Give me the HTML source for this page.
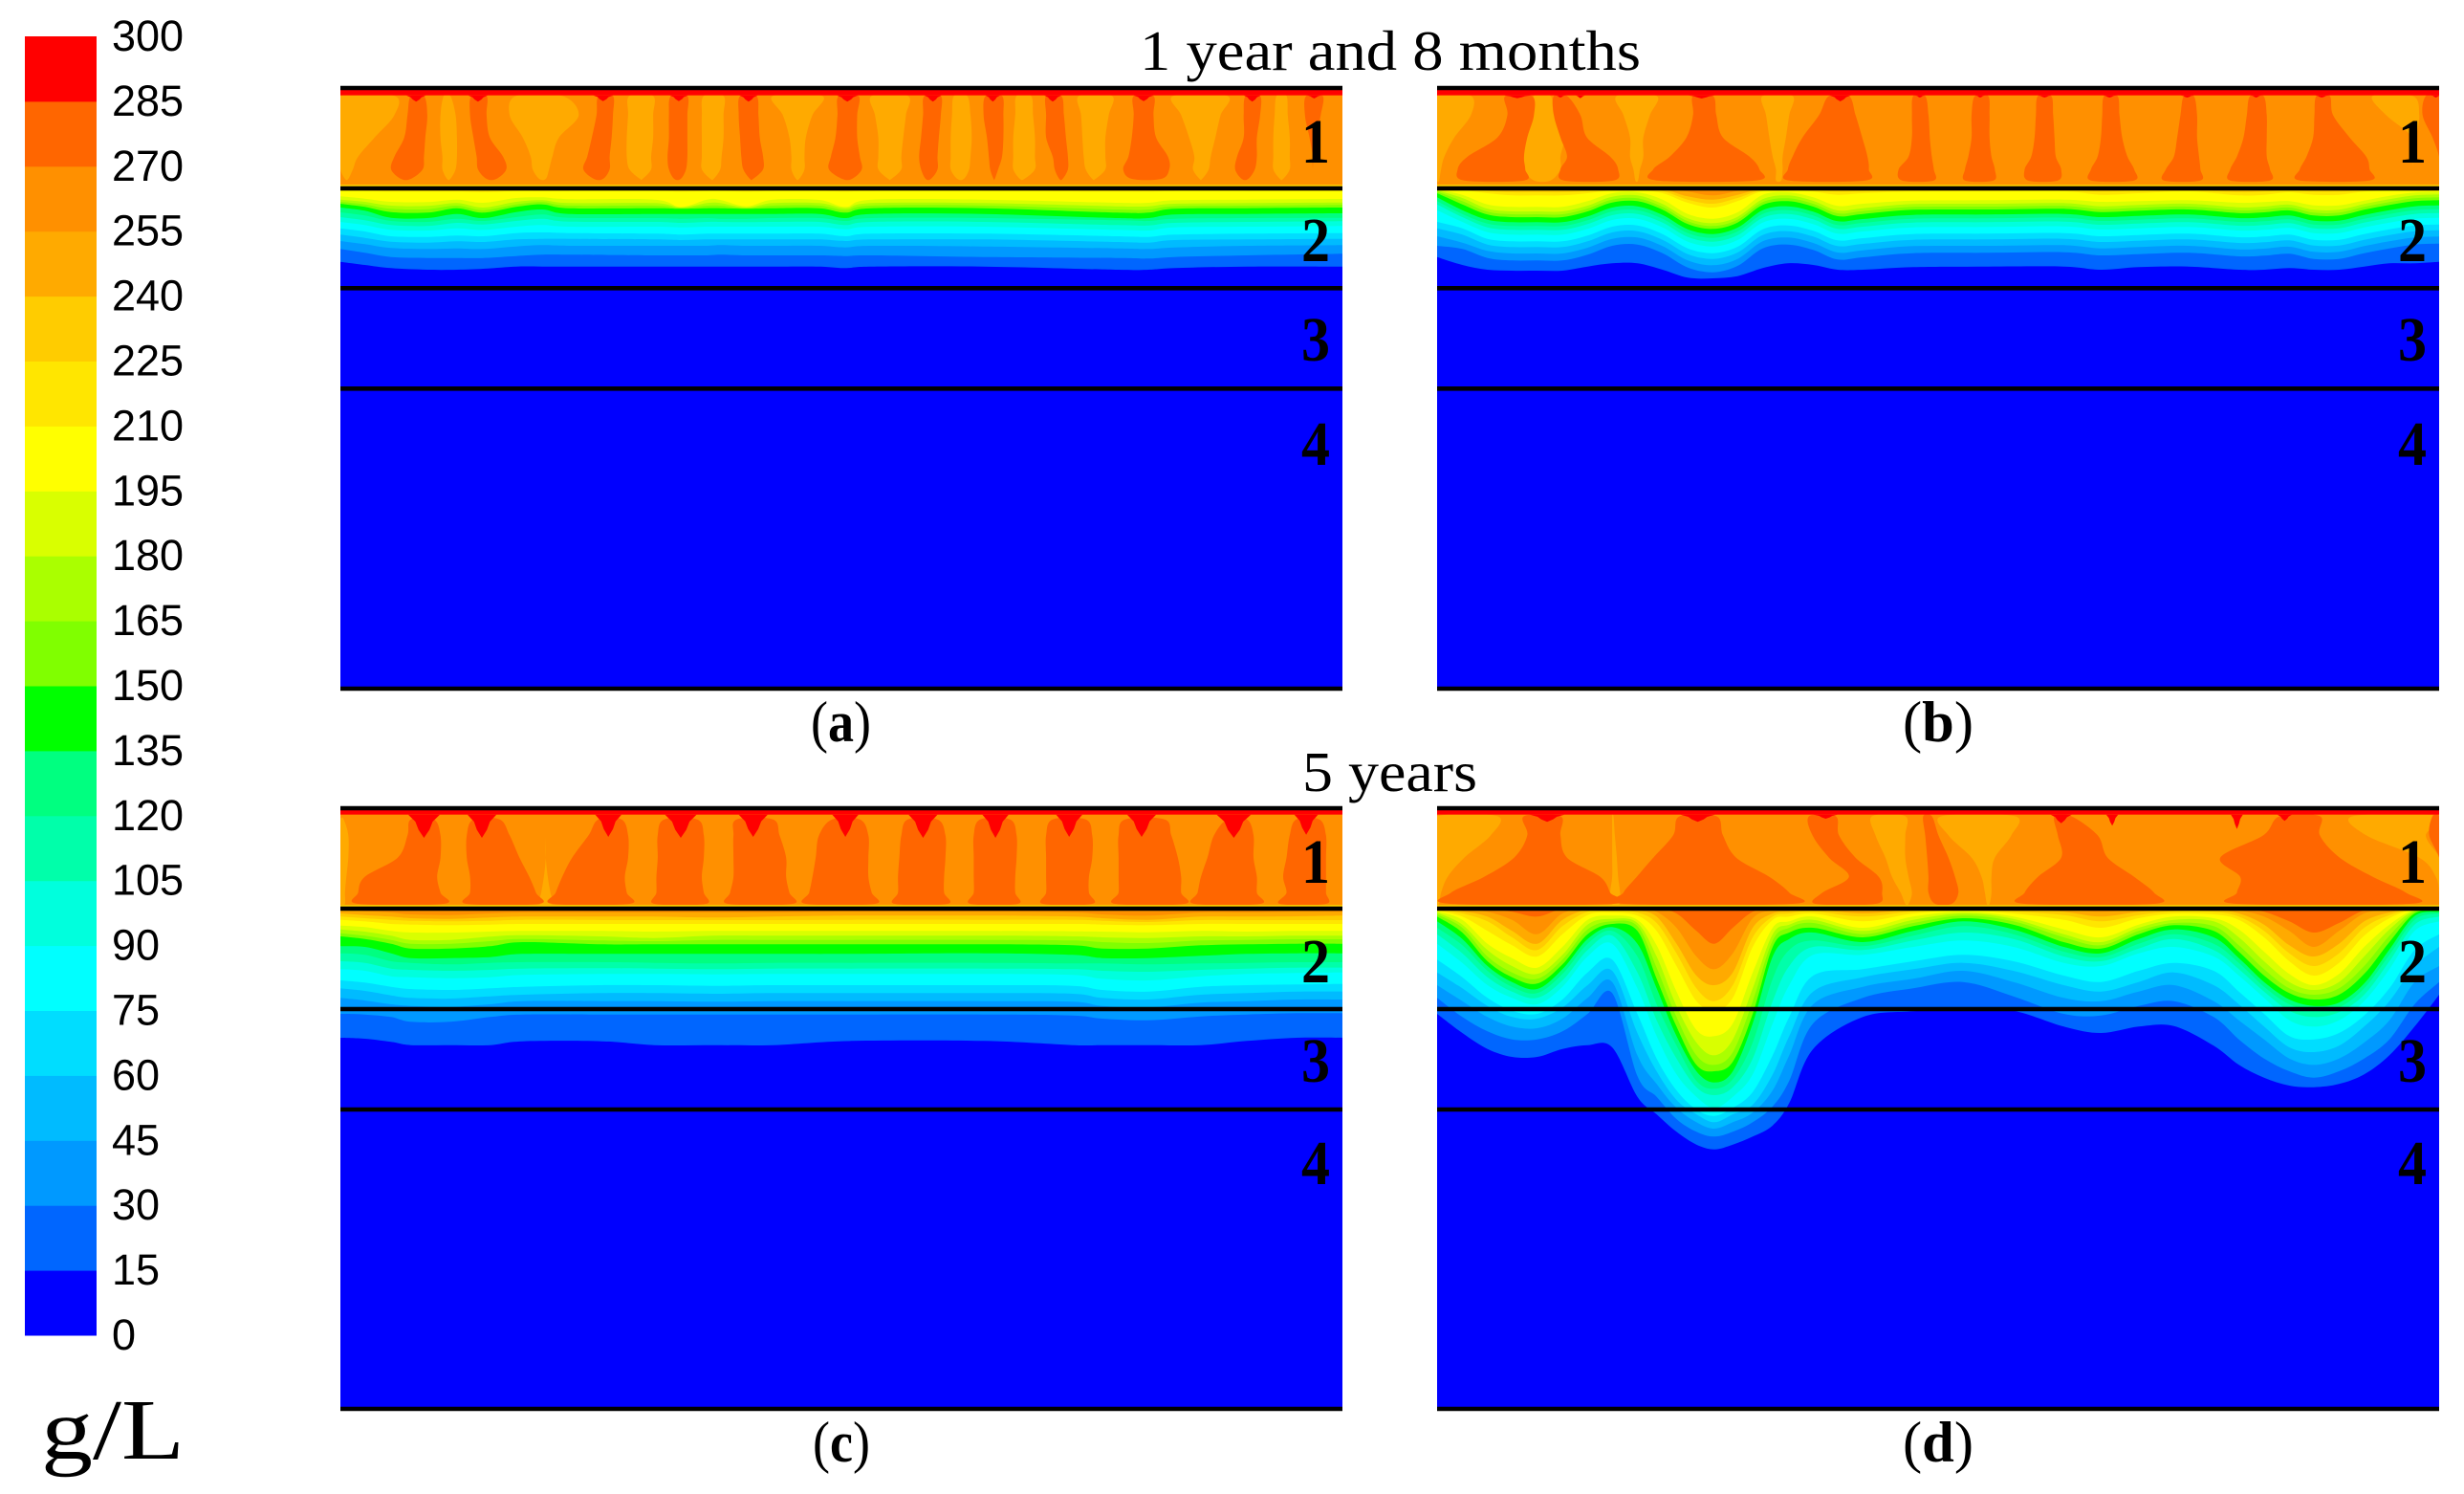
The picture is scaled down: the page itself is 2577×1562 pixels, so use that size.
<!DOCTYPE html>
<html lang="en">
<head>
<meta charset="utf-8">
<title>Concentration contours after 1 year 8 months and 5 years</title>
<style>
html,body{margin:0;padding:0;background:#fff;}
svg{display:block;}
text{fill:#000;}
.serif{font-family:"Liberation Serif",serif;}
.sans{font-family:"Liberation Sans",sans-serif;}
</style>
</head>
<body>
<svg id="figure" xmlns="http://www.w3.org/2000/svg" width="2577" height="1562" viewBox="0 0 2577 1562">
  <rect width="2577" height="1562" fill="#fff"/>
  <g id="colorbar"></g>
  <text class="serif" x="43" y="1525" font-size="90" textLength="150" lengthAdjust="spacingAndGlyphs">g/L</text>
  <text class="serif" x="1192" y="73" font-size="59" textLength="524" lengthAdjust="spacingAndGlyphs">1 year and 8 months</text>
  <text class="serif" x="1362" y="827" font-size="59" textLength="183" lengthAdjust="spacingAndGlyphs">5 years</text>
  <g id="panels"></g>
  <text class="serif" x="848" y="775" font-size="60" textLength="63" lengthAdjust="spacingAndGlyphs">(<tspan font-weight="bold">a</tspan>)</text>
  <text class="serif" x="1990" y="775" font-size="60" textLength="74" lengthAdjust="spacingAndGlyphs">(<tspan font-weight="bold">b</tspan>)</text>
  <text class="serif" x="850" y="1528" font-size="60" textLength="60" lengthAdjust="spacingAndGlyphs">(<tspan font-weight="bold">c</tspan>)</text>
  <text class="serif" x="1990" y="1528" font-size="60" textLength="74" lengthAdjust="spacingAndGlyphs">(<tspan font-weight="bold">d</tspan>)</text>
</svg>
<script>
// ---------- Colour scale ----------
const tickLabels = [300,285,270,255,240,225,210,195,180,165,150,135,120,105,90,75,60,45,30,15,0];
const bandColors = ["#0000ff","#0066ff","#0099ff","#00bbff","#00ddff","#00ffff","#00ffdd","#00ffaa","#00ff80","#00ff00","#80ff00","#aaff00","#d9ff00","#ffff00","#ffe600","#ffcc00","#ffaa00","#ff9000","#ff6600","#ff0000"];
// Contour values (g/L): each profile row below gives the depth at which the field falls below these
const contourLevels = [15,30,45,60,75,90,105,120,135,150,165,180,195,210,225,240,255,270];

// ---------- Panel (a) ----------
const panelADistance = [23,60,100,155,200,240,290,330,370,500,540,580,600,640,680,750,790,830,1000,1200,1250,1290,1400,1545];
const panelAProfiles = [
[640,600,575,555,535,515,500,485,470,458,452,445,435,418,414,411],
[650,612,585,565,545,525,510,495,480,468,460,452,442,418,414,411],
[660,625,597,577,560,540,525,512,502,484,474,464,452,420,414,411],
[665,628,600,580,562,542,528,515,503,486,475,465,453,420,414,411],
[665,628,598,576,558,535,518,505,490,472,464,456,445,420,414,411],
[662,628,600,578,560,540,523,512,503,486,478,470,455,422,416,411],
[655,622,592,570,550,530,512,500,484,468,460,452,440,418,414,411],
[655,618,588,568,548,525,505,492,476,460,453,447,438,418,414,411],
[655,618,590,568,550,530,514,502,490,472,464,456,444,418,414,411],
[655,620,590,570,552,530,515,503,490,472,464,456,445,418,414,411],
[655,620,590,572,555,532,518,505,490,474,472,470,468,420,414,411],
[655,620,590,570,552,530,515,503,490,472,464,456,445,418,414,411],
[655,618,588,570,552,530,515,505,490,472,464,456,446,418,414,411],
[655,620,590,570,552,530,516,505,490,474,472,470,466,420,414,411],
[655,620,590,570,552,530,515,503,490,472,464,456,445,418,414,411],
[655,620,590,570,552,530,515,503,490,472,464,456,446,418,414,411],
[660,622,595,575,560,538,525,512,503,486,478,472,468,420,414,411],
[655,620,590,570,552,530,515,503,490,472,464,456,445,418,414,411],
[655,625,592,570,552,530,515,503,490,472,464,456,445,418,414,411],
[665,628,598,578,560,540,525,510,503,486,476,466,455,420,414,411],
[665,630,600,580,562,542,526,512,503,486,476,466,455,420,414,411],
[660,625,595,572,555,532,518,505,492,474,466,458,447,418,414,411],
[655,620,590,570,552,530,515,503,490,472,464,456,445,418,414,411],
[655,615,588,568,550,528,513,502,488,470,462,454,443,418,414,411]
];
const panelAPlumeDepths = [120,180,250,310,350,380];
const panelAHighPlumes = [
[130,150,125,155,120,152,105,150,100,148,115,130],
[222,245,220,245,225,250,230,270,232,275,245,260],
[415,437,412,437,405,435,398,432,392,432,408,422],
[525,550,522,550,522,550,520,550,522,548,530,540],
[630,655,628,658,630,660,632,665,635,665,645,650],
[780,810,778,808,775,808,768,812,765,815,785,800],
[910,935,908,935,905,932,902,930,905,930,912,920],
[1003,1028,1000,1030,1005,1030,1008,1028,1010,1022,1015,1017],
[1095,1118,1095,1122,1095,1125,1105,1128,1108,1128,1115,1120],
[1228,1258,1228,1258,1225,1262,1220,1280,1212,1282,1225,1270],
[1398,1420,1395,1420,1395,1415,1385,1415,1382,1412,1392,1402],
[1490,1515,1488,1512,1495,1505,1500,1500,1500,1500,1500,1500]
];
const panelALowPlumes = [
[23,105,23,105,23,75,23,50,23,42,30,35],
[180,190,175,198,175,200,178,200,178,198,185,190],
[290,360,280,385,300,355,312,345,315,340,325,335],
[462,498,460,498,458,498,458,495,462,495,478,482],
[575,605,572,605,572,605,572,602,572,600,585,590],
[680,755,695,740,705,730,708,728,708,728,715,720],
[830,885,835,882,840,878,840,875,840,875,855,860],
[955,975,952,980,950,982,950,980,950,978,960,970],
[1050,1072,1048,1075,1045,1078,1045,1078,1045,1078,1055,1062],
[1145,1195,1148,1190,1150,1185,1152,1185,1155,1185,1165,1170],
[1288,1370,1300,1360,1312,1352,1320,1345,1318,1342,1328,1332],
[1445,1460,1442,1462,1440,1465,1440,1465,1440,1465,1450,1455]
];
const panelADrops = [[138,15,138],[232,15,138],[422,15,136],[537,14,136],[643,14,138],[793,16,138],[923,13,138],[1014,11,138],[1105,13,138],[1243,15,136],[1408,13,138],[1502,10,128]];

// ---------- Panel (b) ----------
const panelBDistance = [19,57,95,132,170,208,246,283,321,359,397,435,472,510,548,586,623,661,737,850,964,1020,1077,1152,1228,1266,1304,1341,1379,1417,1455,1493,1530];
const panelBProfiles = [
[625,590,560,535,515,478,460,450,438,425,420,416,413,410],
[650,600,580,555,535,515,500,490,478,460,450,440,430,415,412,410,410],
[665,628,606,586,568,547,532,520,508,492,483,474,460,425,418,412,410],
[668,636,614,594,576,555,540,528,516,500,491,482,468,432,422,414,410],
[668,636,614,594,576,555,540,528,516,500,491,482,468,432,422,414,410],
[668,636,614,594,576,555,540,528,516,500,491,482,468,432,422,414,410],
[655,618,596,576,558,537,522,510,498,482,473,464,450,425,418,412,410],
[645,590,568,548,530,509,494,482,470,454,445,436,425,416,412,410,410],
[645,586,564,544,526,505,490,478,466,450,441,432,422,415,412,410,410],
[665,613,591,571,553,532,517,505,493,477,468,459,445,425,418,412,410],
[690,658,636,616,598,577,562,550,538,522,513,504,490,455,445,435,420],
[692,673,651,631,613,592,577,565,553,537,528,519,505,470,458,445,432],
[685,653,631,611,593,572,557,545,533,517,508,499,485,450,440,430,418],
[660,598,576,556,538,517,502,490,478,462,453,444,430,418,414,410,410],
[645,586,564,544,526,505,490,478,466,450,441,432,422,415,412,410,410],
[650,603,581,561,543,522,507,495,483,467,458,449,438,420,415,411,410],
[665,633,611,591,573,552,537,525,513,497,488,479,465,430,420,413,410],
[665,626,604,584,566,545,530,518,506,490,481,472,458,425,418,412,410],
[657,613,591,571,553,532,517,505,493,477,468,459,448,420,415,411,410],
[655,612,590,570,552,531,516,504,492,476,467,458,447,419,415,411,410],
[655,610,588,568,550,529,514,502,490,474,465,456,445,419,414,411,410],
[665,620,598,578,560,539,524,512,500,484,475,466,452,430,420,412,410],
[657,616,594,574,556,535,520,508,496,480,471,462,450,425,416,411,410],
[655,612,590,570,552,531,516,504,492,476,467,458,447,419,415,411,410],
[665,623,601,581,563,542,527,515,503,487,478,469,455,432,422,413,410],
[665,621,599,579,561,540,525,513,501,485,476,467,453,430,420,412,410],
[660,615,593,573,555,534,519,507,495,479,470,461,450,422,416,411,410],
[665,631,609,589,571,550,535,523,511,495,486,477,463,430,420,413,410],
[665,631,609,589,571,550,535,523,511,495,486,477,463,430,420,413,410],
[655,613,591,571,553,532,517,505,493,477,468,459,448,420,415,411,410],
[645,598,576,556,538,517,502,490,478,462,453,444,433,416,413,410,410],
[645,586,564,544,526,505,490,478,466,450,441,432,423,414,411,410,410],
[640,583,561,541,523,502,487,475,463,447,438,429,421,413,411,410,410]
];
const panelBPlumeDepths = [120,180,250,310,350,385];
const panelBHighPlumes = [
[122,162,125,165,110,155,65,150,50,152,60,150],
[195,215,195,235,205,245,215,280,205,292,210,285],
[405,435,405,440,395,450,370,490,345,505,350,500],
[610,640,595,650,570,660,555,668,548,670,550,665],
[737,755,735,760,735,762,730,765,715,768,720,768],
[830,850,825,852,825,852,820,855,815,860,815,858],
[925,945,922,948,920,950,915,952,905,960,910,955],
[1025,1045,1022,1048,1020,1052,1015,1060,1005,1070,1005,1070],
[1145,1160,1140,1165,1135,1165,1130,1168,1118,1170,1115,1170],
[1245,1265,1240,1270,1235,1270,1225,1270,1215,1275,1215,1275],
[1345,1365,1342,1370,1340,1395,1330,1420,1320,1425,1320,1425],
[1510,1530,1505,1530,1520,1530,1530,1530,1530,1530,1530,1530]
];
const panelBLowPlumes = [
[19,70,19,70,19,45,19,30,19,25,19,22],
[165,190,160,195,152,210,150,205,150,205,165,190],
[290,350,300,340,310,330,310,330,315,325,318,322],
[510,555,515,550,520,545,525,540,530,540,530,538],
[1430,1490,1450,1500,1490,1495,1490,1490,1490,1490,1490,1490]
];
const panelBDrops = [[140,20,127],[205,7,125],[235,7,127],[418,20,128],[627,16,137],[747,7,125],[838,7,125],[935,10,125],[1033,10,125],[1150,10,125],[1254,8,125],[1353,10,125],[1525,7,125]];

// ---------- Panel (c) ----------
const panelCDistance = [23,60,100,130,190,250,300,420,500,590,680,800,1000,1135,1180,1250,1330,1400,1475,1545];
const panelCProfiles = [
[765,690,640,610,585,550,525,500,478,447,437,425,413,395,385,375,366],
[768,692,648,618,592,555,530,505,480,455,445,432,418,400,390,380,368],
[778,700,660,632,605,572,548,525,500,470,458,445,430,408,395,385,372],
[788,715,665,640,612,575,552,530,515,485,470,458,435,410,398,390,378],
[788,715,668,642,615,578,555,535,515,485,470,458,435,412,400,392,380],
[788,700,660,635,610,575,552,530,512,478,462,448,432,410,398,388,375],
[776,692,650,630,605,568,548,528,502,465,455,443,430,408,395,385,372],
[776,692,650,625,600,565,547,528,502,472,460,447,430,408,396,385,372],
[788,692,650,625,600,565,548,530,502,472,462,452,432,408,396,385,372],
[788,692,652,627,602,566,550,532,502,472,458,445,430,408,396,388,372],
[788,692,650,625,600,565,548,530,502,472,458,445,430,408,396,385,372],
[775,692,650,625,600,565,548,530,502,472,458,445,430,408,395,382,370],
[775,692,650,625,600,565,548,530,500,472,458,445,430,408,395,382,370],
[788,695,652,627,602,568,550,532,505,475,460,447,431,408,395,385,372],
[788,705,665,640,615,580,555,532,515,485,465,450,432,410,398,390,378],
[788,710,670,645,620,585,558,535,515,485,468,452,434,412,402,395,382],
[788,698,655,630,605,572,552,532,508,475,460,447,430,408,396,385,372],
[775,692,650,625,600,565,548,530,502,472,458,447,432,408,396,385,372],
[765,688,645,620,598,562,545,528,500,470,456,445,430,408,396,384,370],
[765,688,645,620,596,560,545,528,500,470,456,445,430,408,396,382,370]
];
const panelCPlumeDepths = [80,130,200,260,310,345];
const panelCHighPlumes = [
[130,165,125,175,110,175,60,170,50,175,50,180],
[225,265,215,280,215,295,220,310,220,320,215,325],
[415,450,400,460,375,460,360,455,350,458,345,462],
[515,565,505,575,505,575,503,572,503,575,500,578],
[625,680,620,690,620,700,620,700,615,705,612,710],
[770,812,750,825,745,825,740,825,735,830,730,835],
[885,930,875,942,872,942,870,940,870,940,865,945],
[995,1040,985,1050,985,1050,985,1048,985,1048,980,1052],
[1105,1155,1095,1165,1095,1165,1095,1160,1095,1160,1090,1165],
[1215,1275,1205,1285,1205,1295,1205,1300,1205,1300,1200,1305],
[1370,1400,1350,1410,1340,1410,1330,1415,1325,1415,1320,1420],
[1475,1510,1465,1520,1460,1520,1455,1520,1460,1520,1450,1520]
];
const panelCLowPlumes = [
[23,28,23,35,23,35,23,32,23,30,23,30],
[335,335,335,335,335,335,332,338,328,342,325,345]
];
const panelCDrops = [[150,24,138],[238,22,138],[430,20,135],[540,24,138],[650,22,135],[790,20,135],[908,22,138],[1018,20,138],[1130,20,135],[1240,22,135],[1380,26,138],[1490,18,128]];

// ---------- Panel (d) ----------
const panelDDistance = [19,57,95,132,170,208,246,283,321,350,380,410,437,465,495,525,550,586,661,737,812,888,964,1020,1077,1130,1190,1228,1266,1304,1341,1379,1417,1455,1493,1530];
const panelDProfiles = [
[690,640,600,560,520,470,440,420,400,385,378,372,368,365,362,360],
[750,700,650,610,575,530,500,475,455,435,420,410,395,385,375,368,362,360],
[800,745,700,665,640,600,575,555,540,525,510,490,470,430,400,385,370,360],
[825,770,730,700,680,640,620,605,590,575,560,540,515,475,450,430,395,370],
[825,770,735,705,690,660,640,625,612,595,580,565,545,510,490,470,440,385],
[800,745,705,670,645,605,585,565,550,535,520,505,480,440,415,395,375,360],
[788,690,640,600,560,510,490,470,455,440,425,410,395,380,370,362,360,360],
[795,625,590,555,520,470,445,430,418,408,400,392,382,372,365,360],
[950,885,820,750,690,610,560,510,470,430,415,405,395,382,372,365,360,360],
[1005,950,910,870,830,760,710,660,610,580,545,510,475,430,405,385,370,360],
[1060,1020,985,960,930,880,830,790,760,730,700,665,620,540,500,470,420,375],
[1100,1060,1030,1005,990,950,920,900,870,850,820,780,740,650,610,570,510,430],
[1115,1075,1050,1030,1010,985,945,925,905,870,850,820,760,680,650,600,550,470],
[1100,1060,1030,1005,985,950,920,895,870,840,810,770,720,640,600,560,500,420],
[1075,1030,1000,975,935,880,830,780,720,690,650,610,560,480,450,420,390,370],
[1040,980,930,880,820,720,650,580,510,480,460,440,420,395,385,375,365,360],
[970,900,820,760,700,600,540,490,455,435,420,410,400,385,375,368,362,360],
[800,720,660,620,570,505,480,460,435,420,405,395,385,375,368,362,360,360],
[700,640,605,575,550,505,490,478,465,450,440,430,420,400,385,375,365,360],
[682,610,580,550,525,480,460,445,430,415,405,395,385,375,368,362],
[672,590,555,530,505,460,435,415,400,390,382,375,370,365,362,360],
[680,635,590,555,525,480,455,440,425,410,400,392,385,375,368,362],
[730,690,640,600,570,530,510,495,480,465,450,440,425,395,380,370,362,360],
[750,695,650,620,590,540,525,512,500,485,475,465,450,420,400,385,370,360],
[730,665,620,590,555,500,485,470,455,440,430,420,410,390,380,370,362],
[728,650,600,560,530,480,455,440,425,412,405,395,385,375,368,362],
[790,700,650,600,555,510,490,470,450,430,415,400,390,378,370,364,360],
[850,770,710,660,620,570,550,530,515,495,475,450,425,395,385,375,365,360],
[890,830,770,730,690,640,620,605,590,570,550,525,495,450,430,410,385,370],
[915,870,830,795,760,710,680,660,645,625,610,590,565,525,500,475,430,400],
[920,890,850,810,770,730,700,680,665,645,630,615,600,570,540,510,480,435],
[910,870,830,790,750,710,685,670,655,630,610,590,565,530,500,470,430,405],
[880,830,780,730,695,650,630,610,595,565,540,510,480,445,420,400,375,365],
[820,770,710,650,610,550,525,505,488,465,445,425,410,390,380,372,364],
[730,660,590,540,490,430,410,395,383,375,370,366,363,361],
[630,590,540,480,440,400,385,375,370,366,364,362,360]
];
const panelDPlumeDepths = [70,130,200,260,310,345];
const panelDHighPlumes = [
[150,205,155,205,135,215,90,265,40,280,40,285],
[385,440,375,450,345,470,320,520,300,550,300,555],
[580,620,585,625,610,650,640,685,600,690,590,680],
[752,765,755,775,758,790,760,800,760,805,770,795],
[950,975,955,1015,960,1030,925,1070,905,1100,905,1100],
[1290,1350,1265,1350,1200,1380,1230,1430,1225,1480,1225,1485],
[1520,1530,1515,1530,1530,1530,1530,1530,1530,1530,1530,1530]
];
const panelDLowPlumes = [
[19,110,19,100,19,60,19,35,19,25,19,22],
[675,725,680,725,695,725,705,730,718,735,725,730],
[780,890,790,885,825,860,840,855,845,855,848,852],
[1400,1530,1420,1510,1500,1530,1525,1530,1530,1530,1530,1530],
[283,285,283,287,283,290,283,292,280,295,282,295]
];
const panelDDrops = [[185,26,88],[412,26,88],[605,18,78],[960,16,92],[1037,9,100],[1225,9,110],[1297,11,85]];

// ---------- Layout ----------
const colorbarBox = {left: 26, right: 101, top: 38, bottom: 1396, labelX: 117};
const panelLabels = ["1","2","3","4"];

const panelDefs = [
 {id:"a", left:356, right:1404, top:92, height:628, xDomain:[23,1545], depthDomain:[95,1979], interfaces:[95,410,723,1038], redBase:118, layer1Band:17, distance:panelADistance, profiles:panelAProfiles, plumeDepths:panelAPlumeDepths, high:panelAHighPlumes, low:panelALowPlumes, drops:panelADrops, labelX:1376, labelY:[170,273,377,486]},
 {id:"b", left:1503, right:2551, top:92, height:628, xDomain:[19,1530], depthDomain:[95,1979], interfaces:[95,410,723,1038], redBase:118, layer1Band:17, distance:panelBDistance, profiles:panelBProfiles, plumeDepths:panelBPlumeDepths, high:panelBHighPlumes, low:panelBLowPlumes, drops:panelBDrops, labelX:2523, labelY:[170,273,377,486]},
 {id:"c", left:356, right:1404, top:845, height:628, xDomain:[23,1545], depthDomain:[45,1929], interfaces:[45,360,675,990], redBase:65, layer1Band:17, distance:panelCDistance, profiles:panelCProfiles, plumeDepths:panelCPlumeDepths, high:panelCHighPlumes, low:panelCLowPlumes, drops:panelCDrops, labelX:1376, labelY:[923,1027,1131,1238]},
 {id:"d", left:1503, right:2551, top:845, height:628, xDomain:[19,1530], depthDomain:[45,1929], interfaces:[45,360,675,990], redBase:65, layer1Band:17, distance:panelDDistance, profiles:panelDProfiles, plumeDepths:panelDPlumeDepths, high:panelDHighPlumes, low:panelDLowPlumes, drops:panelDDrops, labelX:2523, labelY:[923,1027,1131,1238]}
];

const SVGNS = "http://www.w3.org/2000/svg";
function make(tag, attrs, parent){
  const el = document.createElementNS(SVGNS, tag);
  for (const k in attrs) el.setAttribute(k, attrs[k]);
  parent.appendChild(el);
  return el;
}
// Catmull-Rom segment from pts[i] to pts[i+1], neighbours taken from the supplied accessor
function smoothSegment(get, i){
  const p0 = get(i-1), p1 = get(i), p2 = get(i+1), p3 = get(i+2);
  const c1x = p1[0] + (p2[0]-p0[0])/6, c1y = p1[1] + (p2[1]-p0[1])/6;
  const c2x = p2[0] - (p3[0]-p1[0])/6, c2y = p2[1] - (p3[1]-p1[1])/6;
  return "C" + c1x.toFixed(1) + " " + c1y.toFixed(1) + " " + c2x.toFixed(1) + " " + c2y.toFixed(1) + " " + p2[0].toFixed(1) + " " + p2[1].toFixed(1);
}
function smoothClosedPath(pts){
  const n = pts.length;
  const get = function(i){ return pts[(i+n)%n]; };
  let d = "M" + pts[0][0].toFixed(1) + " " + pts[0][1].toFixed(1);
  for (let i = 0; i < n; i++) d += smoothSegment(get, i);
  return d + "Z";
}
function smoothOpenPath(pts, startX, endX, topY){
  const n = pts.length;
  const get = function(i){ return pts[Math.max(0, Math.min(n-1, i))]; };
  let d = "M" + startX.toFixed(1) + " " + topY.toFixed(1) + "L" + pts[0][0].toFixed(1) + " " + pts[0][1].toFixed(1);
  for (let i = 0; i < n-1; i++) d += smoothSegment(get, i);
  return d + "L" + endX.toFixed(1) + " " + topY.toFixed(1) + "Z";
}

// ---------- Colorbar ----------
const colorbarGroup = document.getElementById("colorbar");
function colorbarY(value){
  const maxV = tickLabels[0], minV = tickLabels[tickLabels.length-1];
  return colorbarBox.top + (maxV - value) / (maxV - minV) * (colorbarBox.bottom - colorbarBox.top);
}
bandColors.forEach(function(color, i){
  const low = i * 15;
  const high = low + 15;
  const band = make("rect", {x: colorbarBox.left, width: colorbarBox.right - colorbarBox.left, y: colorbarY(high), height: colorbarY(low) - colorbarY(high) + 0.5, fill: color}, colorbarGroup);
  
  
});
tickLabels.forEach(function(value){
  const label = make("text", {x: colorbarBox.labelX, y: colorbarY(value) + 15, "font-size": 45, class: "sans"}, colorbarGroup);
  label.textContent = String(value);
  
  
});

// ---------- Panels ----------
const panelsGroup = document.getElementById("panels");
panelDefs.forEach(function(p){
  const g = make("g", {}, panelsGroup);
  
  

  const clipId = 'clip-' + p.id;
  const clip = make("clipPath", {id: clipId}, g);
  make("rect", {x: p.left, y: p.top, width: p.right - p.left, height: p.height}, clip);
  const body = make("g", {"clip-path": "url(#" + clipId + ")"}, g);
  
  

  const xScale = function(v){
    return p.left + (v - p.xDomain[0]) / (p.xDomain[1] - p.xDomain[0]) * (p.right - p.left);
  };
  const yScale = function(d){
    return p.top + (d - p.depthDomain[0]) / (p.depthDomain[1] - p.depthDomain[0]) * p.height;
  };
  const surface = p.interfaces[0];
  const firstInterface = p.interfaces[1];

  const field = make("rect", {x: p.left, y: p.top, width: p.right - p.left, height: p.height, fill: bandColors[0]}, body);
  
  

  // filled contour bands, lowest concentration first
  contourLevels.forEach(function(level, j){
    const pts = [];
    let visible = false;
    p.profiles.forEach(function(row, i){
      const depth = j < row.length ? row[j] : firstInterface;
      if (depth > firstInterface) visible = true;
      pts.push([xScale(p.distance[i]), yScale(depth)]);
    });
    if (!visible) return;
    const band = make("path", {d: smoothOpenPath(pts, pts[0][0], pts[pts.length-1][0], yScale(surface)), fill: bandColors[j+1]}, body);
    
    
  });

  // layer 1 base
  const layerOne = make("rect", {x: p.left, y: yScale(surface), width: p.right - p.left, height: yScale(firstInterface) - yScale(surface), fill: bandColors[p.layer1Band]}, body);
  
  

  function drawPlume(row, color, name){
    const left = [], right = [];
    p.plumeDepths.forEach(function(d, k){
      left.push([xScale(row[2*k]), yScale(d)]);
      right.unshift([xScale(row[2*k+1]), yScale(d)]);
    });
    const plume = make("path", {d: smoothClosedPath(left.concat(right)), fill: color}, body);
    
    
  }
  p.low.forEach(function(row){ drawPlume(row, bandColors[16], 'low-salinity-plume'); });
  p.high.forEach(function(row){ drawPlume(row, bandColors[18], 'high-salinity-plume'); });

  // bright strip just above the first interface
  const stripDepth = firstInterface - 12;
  const strip = make("rect", {x: p.left, y: yScale(stripDepth), width: p.right - p.left, height: yScale(firstInterface) - yScale(stripDepth), fill: bandColors[15]}, body);
  
  

  // saturated surface band and drops
  const red = make("rect", {x: p.left, y: yScale(surface), width: p.right - p.left, height: yScale(p.redBase) - yScale(surface), fill: bandColors[19]}, body);
  
  
  p.drops.forEach(function(row){
    const base = yScale(p.redBase), tip = yScale(row[2]), h = tip - base;
    const cx = xScale(row[0]), w = row[1] * (p.right - p.left) / (p.xDomain[1] - p.xDomain[0]);
    const pts = [[cx - w, base], [cx - w * 0.55, base + h * 0.3], [cx - w * 0.35, base + h * 0.65], [cx, tip], [cx + w * 0.35, base + h * 0.65], [cx + w * 0.55, base + h * 0.3], [cx + w, base]];
    const drop = make("polygon", {points: pts.map(function(q){return q[0].toFixed(1)+","+q[1].toFixed(1);}).join(" "), fill: bandColors[19]}, body);
    
    
  });

  // layer interface lines
  p.interfaces.concat([p.depthDomain[1]]).forEach(function(d){
    const line = make("line", {x1: p.left, x2: p.right, y1: yScale(d), y2: yScale(d), stroke: "#000", "stroke-width": 4.6}, g);
    
    
  });

  // layer numbers
  panelLabels.forEach(function(txt, k){
    const t = make("text", {x: p.labelX, y: p.labelY[k], "font-size": 66, "font-weight": "bold", class: "serif", "text-anchor": "middle", textLength: 30, lengthAdjust: "spacingAndGlyphs"}, g);
    t.textContent = txt;
    
    
  });
});
</script>
</body>
</html>
